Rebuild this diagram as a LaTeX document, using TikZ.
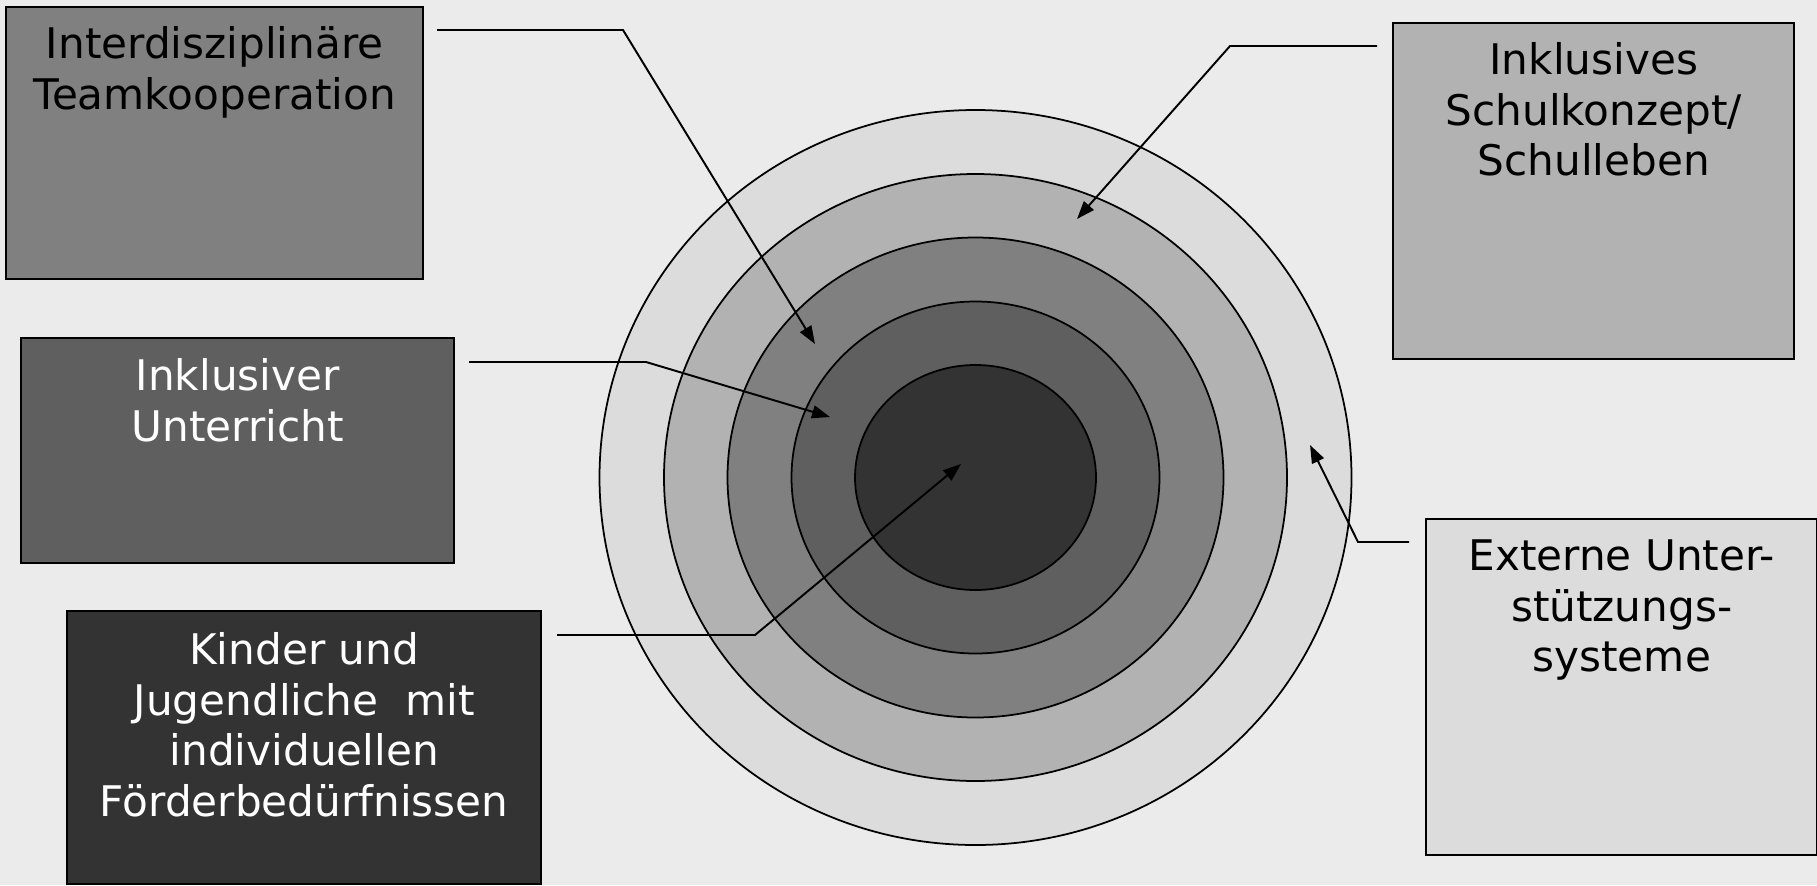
\documentclass[tikz,border=0pt]{standalone}
\usepackage{fontspec}
\setmainfont{DejaVu Sans}
\usetikzlibrary{arrows.meta}
\definecolor{bg}{HTML}{EBEBEB}
\definecolor{gA}{HTML}{DCDCDC}
\definecolor{gB}{HTML}{B2B2B2}
\definecolor{gC}{HTML}{808080}
\definecolor{gD}{HTML}{5F5F5F}
\definecolor{gE}{HTML}{333333}
\begin{document}
\begin{tikzpicture}[x=0.1mm,y=-0.1mm,
  box/.style={draw=black, line width=0.7pt, inner sep=0pt, anchor=north west},
  lbl/.style={anchor=north, align=center, inner sep=0pt, font=\fontsize{12}{14.4}\selectfont},
  ring/.style={draw=black, line width=0.5pt},
  conn/.style={draw=black, line width=0.55pt, -{Triangle[length=1.8mm,width=1.3mm]}}]
\fill[bg] (0,0) rectangle (1817,885);
\useasboundingbox (0,0) rectangle (1817,885);
% rings
\draw[ring, fill=gA] (975.5,477.5) ellipse [x radius=37.6mm, y radius=36.75mm];
\draw[ring, fill=gB] (975.5,477.5) ellipse [x radius=31.15mm, y radius=30.35mm];
\draw[ring, fill=gC] (975.5,477.5) ellipse [x radius=24.8mm, y radius=24.0mm];
\draw[ring, fill=gD] (975.5,477.5) ellipse [x radius=18.4mm, y radius=17.6mm];
\draw[ring, fill=gE] (975.5,477.5) ellipse [x radius=12.05mm, y radius=11.25mm];
% boxes
\node[box, fill=gC, minimum width=41.7mm, minimum height=27.2mm] (b1) at (5,6) {};
\node[box, fill=gD, minimum width=43.3mm, minimum height=22.5mm] (b2) at (20,337) {};
\node[box, fill=gE, minimum width=47.4mm, minimum height=27.3mm] (b3) at (66,610) {};
\node[box, fill=gB, minimum width=40.1mm, minimum height=33.6mm] (b4) at (1392,22) {};
\node[box, fill=gA, minimum width=39.1mm, minimum height=33.6mm] (b5) at (1425,518) {};
% labels
\node[lbl, text=black] (t1) at ([yshift=-2mm]b1.north) {Interdisziplinäre\\Teamkooperation};
\node[lbl, text=white] (t2) at ([yshift=-2.1mm]b2.north) {Inklusiver\\Unterricht};
\node[lbl, text=white] (t3) at ([yshift=-2.2mm]b3.north) {Kinder und\\Jugendliche~ mit\\individuellen\\Förderbedürfnissen};
\node[lbl, text=black] (t4) at ([yshift=-2mm]b4.north) {Inklusives\\Schulkonzept/\\Schulleben};
\node[lbl, text=black] (t5) at ([yshift=-2.1mm]b5.north) {Externe Unter-\\stützungs-\\systeme};
% connectors
\coordinate (s1) at (437,30);  \coordinate (k1) at (623,30);  \coordinate (e1) at (815,344);
\coordinate (s2) at (1377,46); \coordinate (k2) at (1230,46); \coordinate (e2) at (1077,219);
\coordinate (s3) at (469,362); \coordinate (k3) at (646,362); \coordinate (e3) at (830,417);
\coordinate (s4) at (557,635); \coordinate (k4) at (755,635); \coordinate (e4) at (961,464);
\coordinate (s5) at (1409,542);\coordinate (k5) at (1358,542);\coordinate (e5) at (1310,445);
\draw[conn] (s1) -- (k1) -- (e1);
\draw[conn] (s2) -- (k2) -- (e2);
\draw[conn] (s3) -- (k3) -- (e3);
\draw[conn] (s4) -- (k4) -- (e4);
\draw[conn] (s5) -- (k5) -- (e5);
\end{tikzpicture}
\end{document}
